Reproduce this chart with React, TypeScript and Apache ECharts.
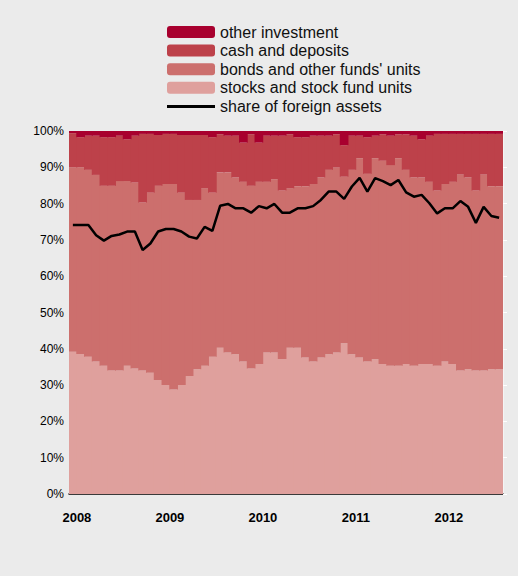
import React, { useEffect, useRef } from "react";
import * as echarts from "echarts";

const years = ["2008", "2009", "2010", "2011", "2012"];
const months: string[] = [];
for (const y of years) {
  for (let m = 1; m <= 12; m++) {
    if (y === "2012" && m > 8) break;
    months.push(`${y}-${String(m).padStart(2, "0")}`);
  }
}

const stocks = [
  39.2, 38.6, 37.8, 36.5, 35.3, 34.0, 34.0, 35.3, 34.6, 34.0, 33.4, 31.4,
  30.0, 28.8, 30.0, 32.5, 34.4, 35.3, 37.8, 40.3, 39.0, 38.5, 36.5, 34.6,
  35.8, 39.0, 39.0, 37.2, 40.3, 40.3, 37.6, 36.5, 37.6, 38.5, 39.0, 41.5,
  38.5, 37.6, 36.5, 37.1, 35.8, 35.3, 35.3, 35.8, 35.3, 35.8, 35.8, 35.3,
  36.5, 35.8, 34.0, 34.4, 34.0, 34.0, 34.4, 34.4,
];
const bonds = [
  50.8, 51.4, 51.5, 51.4, 49.6, 50.9, 52.2, 50.9, 51.2, 46.3, 49.6, 53.5,
  55.4, 56.6, 53.0, 48.5, 46.6, 48.9, 45.2, 48.3, 49.6, 48.7, 49.5, 50.3,
  50.2, 47.0, 47.7, 46.4, 43.9, 44.5, 47.2, 48.9, 49.6, 50.8, 50.9, 45.9,
  50.8, 54.9, 51.7, 55.4, 56.0, 55.3, 57.2, 53.5, 51.9, 51.4, 50.2, 48.3,
  48.9, 50.2, 54.0, 52.8, 49.6, 54.0, 50.4, 50.4,
];
const cash = [
  9.4, 8.3, 9.4, 10.8, 13.4, 13.4, 12.5, 11.5, 12.9, 18.9, 16.2, 14.0,
  13.8, 13.8, 15.9, 17.9, 17.9, 14.7, 15.3, 10.5, 10.1, 11.5, 10.8, 14.2,
  10.8, 12.7, 12.0, 15.1, 14.9, 13.5, 13.5, 13.3, 11.5, 9.4, 9.2, 8.7,
  9.4, 6.2, 10.1, 6.2, 7.3, 8.1, 6.6, 9.8, 11.5, 10.5, 12.7, 15.6,
  13.8, 13.2, 11.2, 12.0, 15.6, 11.2, 14.4, 14.4,
];
const other = [
  0.6, 1.7, 1.3, 1.3, 1.7, 1.7, 1.3, 2.3, 1.3, 0.8, 0.8, 1.1,
  0.8, 0.8, 1.1, 1.1, 1.1, 1.1, 1.7, 0.9, 1.3, 1.3, 3.2, 0.9,
  3.2, 1.3, 1.3, 1.3, 0.9, 1.7, 1.7, 1.3, 1.3, 1.3, 0.9, 3.9,
  1.3, 1.3, 1.7, 1.3, 0.9, 1.3, 0.9, 0.9, 1.3, 2.3, 1.3, 0.8,
  0.8, 0.8, 0.8, 0.8, 0.8, 0.8, 0.8, 0.8,
];
const foreignShare = [
  74.1, 74.1, 74.1, 71.3, 69.8, 71.1, 71.5, 72.3, 72.3, 67.2, 69.0, 72.3,
  73.0, 73.0, 72.3, 70.9, 70.4, 73.6, 72.5, 79.4, 79.9, 78.7, 78.7, 77.5,
  79.3, 78.7, 79.9, 77.5, 77.5, 78.7, 78.7, 79.3, 81.0, 83.3, 83.3, 81.3,
  84.7, 87.1, 83.3, 87.0, 86.2, 85.1, 86.5, 83.1, 81.9, 82.4, 80.1, 77.3,
  78.7, 78.7, 80.7, 79.1, 74.7, 79.1, 76.6, 76.1,
];

const seriesNames = [
  "other investment",
  "cash and deposits",
  "bonds and other funds' units",
  "stocks and stock fund units",
  "share of foreign assets",
];
const yTicks = [0, 10, 20, 30, 40, 50, 60, 70, 80, 90, 100];

const FONT = "'Liberation Sans', Arial, Helvetica, sans-serif";

export default function App() {
  const ref = useRef<HTMLDivElement>(null);
  useEffect(() => {
    document.body.style.margin = "0";
    if (!ref.current) return;
    const chart = echarts.init(ref.current, null, { renderer: "svg" });
    const bar = (name: string, data: number[], color: string) => ({
      type: "bar" as const,
      name,
      data,
      stack: "total",
      barWidth: "112%",
      barGap: "0%",
      itemStyle: { color },
    });
    chart.setOption({
      animation: false,
      backgroundColor: "#ebebeb",
      textStyle: { fontFamily: FONT },
      legend: {
        orient: "vertical",
        left: 162,
        top: 19,
        itemWidth: 48,
        itemHeight: 12,
        itemGap: 2.6,
        textStyle: { fontFamily: FONT, fontSize: 16, color: "#111", lineHeight: 15 },
        data: [
          seriesNames[0],
          seriesNames[1],
          seriesNames[2],
          seriesNames[3],
          { name: seriesNames[4], icon: "path://M0 0h48v3H0z" },
        ],
      },
      grid: { left: 69, right: 15, top: 131, bottom: 82, containLabel: false },
      xAxis: {
        type: "category",
        data: months,
        boundaryGap: true,
        axisLine: { show: true, lineStyle: { color: "#000", width: 1.5 } },
        axisTick: { show: false },
        axisLabel: {
          interval: (i: number) => i % 12 === 0,
          formatter: (v: string) => v.slice(0, 4),
          fontWeight: "bold",
          fontSize: 13,
          color: "#000",
          margin: 17,
          padding: [0, 0, 0, 8],
          fontFamily: FONT,
        },
        splitLine: { show: false },
      },
      yAxis: [
        {
          type: "value",
          min: yTicks[0],
          max: yTicks[yTicks.length - 1],
          interval: 10,
          axisLine: { show: false },
          axisTick: { show: false },
          splitLine: { show: false },
          axisLabel: {
            formatter: (v: number) => `${v}%`,
            fontSize: 12,
            color: "#000",
            margin: 5,
            fontFamily: FONT,
          },
        },
        {
          type: "value",
          position: "right",
          min: yTicks[0],
          max: yTicks[yTicks.length - 1],
          interval: 10,
          axisLine: { show: true, lineStyle: { color: "#f4f4f4", width: 1 } },
          axisTick: { show: true, length: 4, lineStyle: { color: "#ffffff", width: 1 } },
          axisLabel: { show: false },
          splitLine: { show: false },
        },
      ],
      series: [
        bar(seriesNames[3], stocks, "#dfa09d"),
        bar(seriesNames[2], bonds, "#cc6f6d"),
        bar(seriesNames[1], cash, "#bd414a"),
        bar(seriesNames[0], other, "#a8002e"),
        {
          type: "line",
          name: seriesNames[4],
          data: foreignShare,
          symbol: "none",
          lineStyle: { color: "#000", width: 2.5 },
          itemStyle: { color: "#000" },
          z: 10,
        },
      ],
    });
    return () => chart.dispose();
  }, []);
  return <div ref={ref} style={{ width: 518, height: 576 }} />;
}
